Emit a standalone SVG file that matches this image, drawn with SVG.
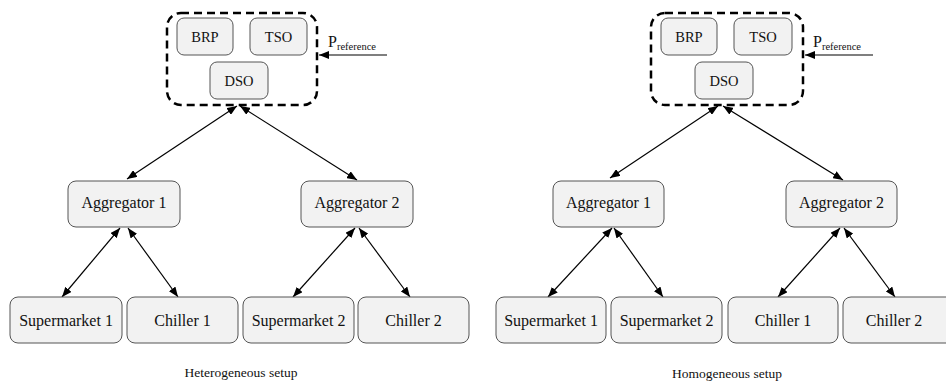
<svg xmlns="http://www.w3.org/2000/svg" width="946" height="382" viewBox="0 0 946 382">
<style>
.node{fill:#f2f2f2;stroke:#555;stroke-width:1}
.grp{fill:none;stroke:#000;stroke-width:2.5;stroke-dasharray:8,5}
.lbl{font-family:"Liberation Serif","Times New Roman",serif;font-size:16px;fill:#111;text-anchor:middle}
.top{font-size:14.5px}
.cap{font-family:"Liberation Serif","Times New Roman",serif;font-size:13.5px;fill:#111;text-anchor:middle}
.pr{font-family:"Liberation Serif","Times New Roman",serif;font-size:16px;fill:#111}
.pr .sub{font-size:10.5px}
.c{stroke:#000;stroke-width:1.2;fill:none}
.d{marker-start:url(#ah);marker-end:url(#ah)}
.s{marker-end:url(#ah)}
</style>
<defs>
<marker id="ah" markerUnits="userSpaceOnUse" markerWidth="10" markerHeight="8" refX="10" refY="4" orient="auto-start-reverse" viewBox="0 0 10 8">
<path d="M0,0 L10,4 L0,8 z" fill="#000"/>
</marker>
</defs>

<g id="connectors">
<line class="c d" x1="237" y1="106" x2="127" y2="179"/>
<line class="c d" x1="240" y1="106" x2="357" y2="180"/>
<line class="c d" x1="120" y1="228" x2="62" y2="297"/>
<line class="c d" x1="128" y1="228" x2="178" y2="297"/>
<line class="c d" x1="355" y1="228" x2="293" y2="297"/>
<line class="c d" x1="359" y1="228" x2="410" y2="297"/>
<line class="c s" x1="387" y1="55" x2="319" y2="55"/>
<line class="c d" x1="718" y1="106" x2="610" y2="178"/>
<line class="c d" x1="723" y1="106" x2="843" y2="180"/>
<line class="c d" x1="612" y1="228" x2="548" y2="297"/>
<line class="c d" x1="614" y1="228" x2="663" y2="297"/>
<line class="c d" x1="840" y1="228" x2="778" y2="297"/>
<line class="c d" x1="844" y1="228" x2="895" y2="297"/>
<line class="c s" x1="873" y1="55" x2="805" y2="55"/>
</g>

<!-- Left: heterogeneous -->
<g id="L-operators"><rect class="grp" x="167" y="13" width="150" height="92" rx="14"/></g>
<g id="L-BRP"><rect class="node" x="177" y="18" width="56" height="37" rx="7"/><text class="lbl top" x="205" y="41.5">BRP</text></g>
<g id="L-TSO"><rect class="node" x="250" y="18" width="57" height="37" rx="7"/><text class="lbl top" x="278.5" y="41.5">TSO</text></g>
<g id="L-DSO"><rect class="node" x="210" y="62" width="58" height="37" rx="7"/><text class="lbl top" x="239" y="85.5">DSO</text></g>
<g id="L-Pref"><text class="pr" x="328" y="47">P<tspan class="sub" dy="3">reference</tspan></text></g>
<g id="L-Agg1"><rect class="node" x="68" y="181" width="112" height="46" rx="8"/><text class="lbl" x="124" y="208">Aggregator 1</text></g>
<g id="L-Agg2"><rect class="node" x="301" y="181" width="112" height="46" rx="8"/><text class="lbl" x="357" y="208">Aggregator 2</text></g>
<g id="L-SM1"><rect class="node" x="10" y="297" width="112" height="46" rx="8"/><text class="lbl" x="66" y="325.5">Supermarket 1</text></g>
<g id="L-CH1"><rect class="node" x="127" y="297" width="111" height="46" rx="8"/><text class="lbl" x="182.5" y="325.5">Chiller 1</text></g>
<g id="L-SM2"><rect class="node" x="243" y="297" width="111" height="46" rx="8"/><text class="lbl" x="298.5" y="325.5">Supermarket 2</text></g>
<g id="L-CH2"><rect class="node" x="358" y="297" width="111" height="46" rx="8"/><text class="lbl" x="413.5" y="325.5">Chiller 2</text></g>
<text class="cap" x="241" y="377">Heterogeneous setup</text>

<!-- Right: homogeneous -->
<g id="R-operators"><rect class="grp" x="651" y="13" width="152" height="92" rx="14"/></g>
<g id="R-BRP"><rect class="node" x="661" y="18" width="56" height="37" rx="7"/><text class="lbl top" x="689" y="41.5">BRP</text></g>
<g id="R-TSO"><rect class="node" x="734" y="18" width="58" height="37" rx="7"/><text class="lbl top" x="763" y="41.5">TSO</text></g>
<g id="R-DSO"><rect class="node" x="695" y="62" width="58" height="37" rx="7"/><text class="lbl top" x="724" y="85.5">DSO</text></g>
<g id="R-Pref"><text class="pr" x="813" y="47">P<tspan class="sub" dy="3">reference</tspan></text></g>
<g id="R-Agg1"><rect class="node" x="553" y="181" width="111" height="46" rx="8"/><text class="lbl" x="608.5" y="208">Aggregator 1</text></g>
<g id="R-Agg2"><rect class="node" x="786" y="181" width="111" height="46" rx="8"/><text class="lbl" x="841.5" y="208">Aggregator 2</text></g>
<g id="R-SM1"><rect class="node" x="496" y="297" width="110" height="46" rx="8"/><text class="lbl" x="551" y="325.5">Supermarket 1</text></g>
<g id="R-SM2"><rect class="node" x="611" y="297" width="111" height="46" rx="8"/><text class="lbl" x="666.5" y="325.5">Supermarket 2</text></g>
<g id="R-CH1"><rect class="node" x="728" y="297" width="110" height="46" rx="8"/><text class="lbl" x="783" y="325.5">Chiller 1</text></g>
<g id="R-CH2"><rect class="node" x="843" y="297" width="111" height="46" rx="8"/><text class="lbl" x="894" y="325.5">Chiller 2</text></g>
<text class="cap" x="727" y="378">Homogeneous setup</text>
</svg>
